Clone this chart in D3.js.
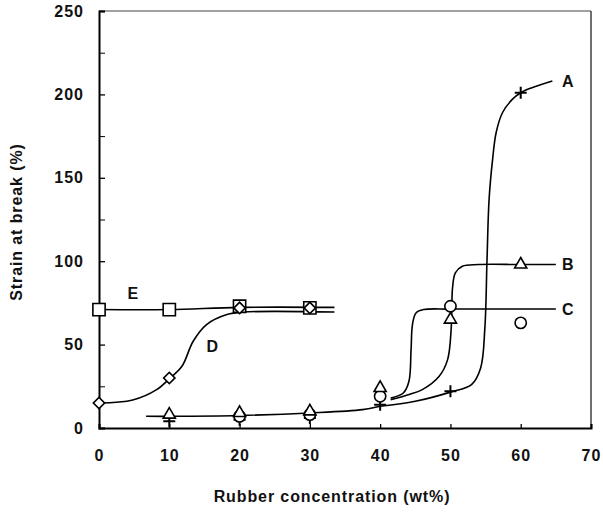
<!DOCTYPE html>
<html>
<head>
<meta charset="utf-8">
<script src="https://cdn.jsdelivr.net/npm/d3@7"></script>
<style>
  body { margin: 0; background: #fff; }
  text { font-family: "Liberation Sans", Arial, Helvetica, sans-serif; font-weight: bold; fill: #111; }
</style>
</head>
<body>
<div id="svgBody"></div>
<script>
// tick labels
var xTicks = [0, 10, 20, 30, 40, 50, 60, 70];
var yTicks = [0, 50, 100, 150, 200, 250];
var yMinor = [25, 75, 125, 175, 225];

// measured points (wt%, strain %)
var aX = [10, 20, 30, 40, 50, 60];
var aY = [4, 5, 6, 14, 22, 201];
var bX = [10, 20, 30, 40, 50, 60];
var bY = [8, 9, 10, 24, 65, 98];
var cX = [20, 30, 40, 50, 60];
var cY = [7, 8, 19, 73, 63];
var dX = [0, 10, 20, 30];
var dY = [15, 30, 72, 72];
var eX = [0, 10, 20, 30];
var eY = [71, 71, 73, 72];

// hand drawn trend lines
var fitBase = [[6.7, 7], [10, 7], [20, 7.5], [30, 9], [37.5, 11], [40, 13]];
var fitA = [[40, 13], [45, 16], [50, 21.5], [53, 26], [54.3, 36], [54.9, 60], [55.2, 100],
            [55.5, 137], [56, 161], [56.5, 177], [57.4, 189], [58.8, 197], [60, 201], [61.6, 204], [64.5, 208]];
var fitB = [[41.5, 17], [44, 20], [46, 23], [48.4, 31], [49.6, 41], [50.1, 59], [50.2, 72],
            [50.3, 84], [50.7, 93], [51.7, 97], [54, 98], [60, 98], [65, 98]];
var fitC = [[41.5, 18], [43.3, 21], [44.1, 28], [44.4, 47], [44.6, 62], [45.1, 69], [46.2, 71], [50, 71.3], [65, 71.3]];
var fitD = [[0, 15], [4.8, 16.8], [8.2, 23], [10, 29.5], [11.8, 37], [13.4, 52], [15.3, 62], [18.2, 68], [20.5, 69.5], [33.5, 69.5]];
var fitE = [[0, 71], [10, 71], [20, 72.3], [33.5, 72.3]];

var labelNames = ["A", "B", "C", "D", "E"];
var labelX = [66.7, 66.7, 66.7, 16.1, 4.8];
var labelY = [208, 98, 71, 49, 81];

var margin = {top: 11, right: 12, bottom: 86, left: 99},
    width = 603 - margin.left - margin.right,
    height = 514 - margin.top - margin.bottom;

var svg = d3.select("#svgBody")
    .append("svg")
    .attr("width", 603)
    .attr("height", 514)
    .append("g")
    .attr("transform", "translate(" + margin.left + "," + margin.top + ")");

var x = d3.scaleLinear().domain([0, 70]).range([0, width]);
var y = d3.scaleLinear().domain([0, 250]).range([height, 0]);

// frame: top/right thin, left/bottom heavy
svg.append("line").attr("x1", 0).attr("x2", width).attr("y1", 0).attr("y2", 0)
    .attr("stroke", "#444").attr("stroke-width", 1.2);
svg.append("line").attr("x1", width).attr("x2", width).attr("y1", 0).attr("y2", height)
    .attr("stroke", "#333").attr("stroke-width", 1.4);

var xAxis = svg.append("g")
    .attr("transform", "translate(0," + height + ")")
    .call(d3.axisBottom(x).tickValues(xTicks).tickSize(-4).tickPadding(22).tickFormat(d3.format("d")));
var yAxis = svg.append("g")
    .call(d3.axisLeft(y).tickValues(yTicks).tickSize(-6).tickPadding(15).tickFormat(d3.format("d")));
svg.append("g")
    .call(d3.axisLeft(y).tickValues(yMinor).tickSize(-6).tickFormat(""))
    .select(".domain").remove();

[xAxis, yAxis].forEach(function(a) {
    a.select(".domain").attr("stroke", "#000").attr("stroke-width", 2);
    a.selectAll(".tick line").attr("stroke", "#000").attr("stroke-width", 1.3);
    a.selectAll("text").attr("font-size", "16px").attr("font-family", "Liberation Sans, Arial, sans-serif")
        .attr("font-weight", "bold").attr("fill", "#111").style("letter-spacing", "1px");
});
svg.selectAll(".tick line").attr("stroke", "#000");

// trend lines
var line = d3.line()
    .x(function(d) { return x(d[0]); })
    .y(function(d) { return y(d[1]); })
    .curve(d3.curveCatmullRom.alpha(0.5));

[fitBase, fitA, fitB, fitC, fitD, fitE].forEach(function(f) {
    svg.append("path")
        .datum(f)
        .attr("d", line)
        .attr("fill", "none")
        .attr("stroke", "#000")
        .attr("stroke-width", 1.6);
});

// markers
function drawMarkers(xs, ys, kind) {
    var pts = xs.map(function(v, i) { return [v, ys[i]]; });
    var g = svg.append("g");
    var m = g.selectAll("path").data(pts).enter().append("path")
        .attr("transform", function(d) {
            return "translate(" + x(d[0]) + "," + y(d[1]) + ")" + (kind == "diamond" ? " rotate(45)" : "");
        })
        .attr("fill", "#fff")
        .attr("stroke", "#000")
        .attr("stroke-width", 1.6);
    if (kind == "plus") {
        m.attr("d", "M-6,0H6M0,-6V6").attr("stroke-width", 2);
    } else if (kind == "square") {
        m.attr("d", d3.symbol().type(d3.symbolSquare).size(150)());
    } else if (kind == "diamond") {
        m.attr("d", d3.symbol().type(d3.symbolSquare).size(64)());
    } else if (kind == "circle") {
        m.attr("d", d3.symbol().type(d3.symbolCircle).size(100)());
    } else {
        m.attr("d", d3.symbol().type(d3.symbolTriangle).size(64)());
    }
}

drawMarkers(aX, aY, "plus");
drawMarkers(cX, cY, "circle");
drawMarkers(bX, bY, "triangle");
drawMarkers(eX, eY, "square");
drawMarkers(dX, dY, "diamond");

// curve letters
svg.selectAll(".lab")
    .data(labelNames)
    .enter().append("text")
    .attr("class", "lab")
    .attr("x", function(d, i) { return x(labelX[i]); })
    .attr("y", function(d, i) { return y(labelY[i]); })
    .attr("dy", "0.36em")
    .attr("text-anchor", "middle")
    .attr("font-size", "16px")
    .text(function(d) { return d; });

// axis titles
svg.append("text")
    .attr("x", width / 2 - 13)
    .attr("y", height + 74)
    .attr("text-anchor", "middle")
    .attr("font-size", "16px")
    .style("letter-spacing", "0.9px")
    .text("Rubber concentration (wt%)");

svg.append("text")
    .attr("transform", "rotate(-90)")
    .attr("x", -(222 - margin.top))
    .attr("y", -margin.left + 22)
    .attr("text-anchor", "middle")
    .attr("font-size", "16px")
    .style("letter-spacing", "0.9px")
    .text("Strain at break (%)");
</script>
</body>
</html>
